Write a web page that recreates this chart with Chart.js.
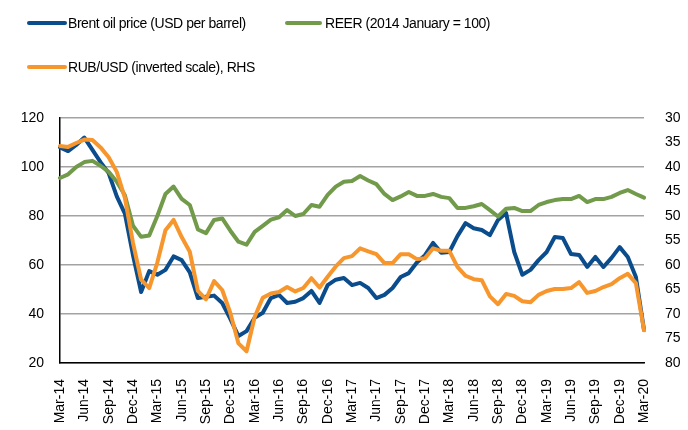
<!DOCTYPE html>
<html>
<head>
<meta charset="utf-8">
<script src="https://cdn.jsdelivr.net/npm/chart.js@4/dist/chart.umd.min.js"></script>
<style>
body{margin:0;background:#fff;}
#wrap{position:relative;width:688px;height:430px;font-family:"Liberation Sans",Arial,sans-serif;}
#chart{position:absolute;left:0;top:0;}
.leg{position:absolute;font-size:14px;letter-spacing:-0.45px;color:#000;white-space:nowrap;line-height:16px;}
.leg i{position:absolute;left:-41px;top:6px;width:40px;height:4px;border-radius:2px;}
</style>
</head>
<body>
<div id="wrap">
<canvas id="chart" width="688" height="430"></canvas>
<div class="leg" style="left:68px;top:15px;"><i style="background:#0a4c8c"></i>Brent oil price (USD per barrel)</div>
<div class="leg" style="left:325px;top:15px;"><i style="background:#719a4b;width:37px;left:-40px"></i>REER (2014 January = 100)</div>
<div class="leg" style="left:68px;top:59px;"><i style="background:#f7962c"></i>RUB/USD (inverted scale), RHS</div>
</div>
<script>
// ---------- DATA ----------
const monthNames = ["Jan","Feb","Mar","Apr","May","Jun","Jul","Aug","Sep","Oct","Nov","Dec"];
const months = [];
for(let y=14;y<=20;y++){
  for(let m=0;m<12;m++){
    if(y===14 && m<2) continue;
    if(y===20 && m>2) continue;
    months.push(monthNames[m]+"-"+y);
  }
}

const brent = [108,106.5,109,112,107,102,97.5,88,81,64,49,57.5,56,58,63.5,62,57,46.5,47,47.5,44.5,38,31,33,
38.5,40.5,46.5,47.8,44.5,45,46.5,49.4,44.5,51.8,54,54.7,51.8,52.7,50.6,46.5,47.8,50.6,55.1,56.7,61,64,69,65,
65.3,71.8,77.1,75,74.3,72.2,78.4,81.2,65.3,56,58,62,65.3,71.4,71,64.5,64.1,59.2,63.3,59.2,62.9,67.3,63.3,55.1,33.5];

const reer = [95.5,97,100,102,102.5,100.5,98,94,88.5,76,71.5,72,80,89,92,87,84.5,74.5,73,78.4,79,74,69.5,68.3,
73.5,76,78.5,79.5,82.4,80,80.8,84.5,83.8,88.6,92,94,94.3,96.3,94.5,93,89,86.5,88,89.8,88.2,88.2,89,87.8,
87.3,83.3,83.3,84,84.9,82.4,79.8,83,83.3,82,82,84.5,85.7,86.5,86.9,86.9,88.2,85.7,86.9,86.9,87.8,89.4,90.6,89,87.5];

const rubusd = [35.7,35.9,35.1,34.4,34.5,36,38,41,46.3,55.5,63,64.7,59.5,52.9,50.8,54.3,57.3,65.3,67,63.3,65.1,69.8,76,77.6,
70.6,66.7,65.8,65.5,64.5,65.4,64.7,62.7,64.6,62.4,60.3,58.6,58.2,56.6,57.2,57.8,59.6,59.6,57.8,57.8,58.8,58.6,56.6,57.1,
57.1,60.4,62.2,62.9,63.1,66.4,68,65.9,66.3,67.4,67.6,66.1,65.3,64.9,64.9,64.7,63.5,65.7,65.3,64.5,63.9,62.7,61.8,63.7,73.3];

const leftTicks = [20,120,20];   // min, max, step
const rightTicks = [30,80,5];

// ---------- CHART ----------
const font = {family:'"Liberation Sans", Arial, sans-serif', size:14};

const ctx = document.getElementById("chart").getContext("2d");

new Chart(ctx,{
type:"line",
data:{
labels:months,
datasets:[
{label:"Brent oil price (USD per barrel)",data:brent,borderColor:"#0a4c8c",yAxisID:"y",order:3},
{label:"REER (2014 January = 100)",data:reer,borderColor:"#719a4b",yAxisID:"y",order:2},
{label:"RUB/USD (inverted scale), RHS",data:rubusd,borderColor:"#f7962c",yAxisID:"y2",order:1}
]
},
options:{
responsive:false,
animation:false,
events:[],
elements:{
line:{borderWidth:4,tension:0,borderJoinStyle:"round",borderCapStyle:"round"},
point:{radius:0}
},
layout:{padding:{top:118,left:0,right:0,bottom:0}},
plugins:{legend:{display:false},tooltip:{enabled:false}},
scales:{
x:{
offset:false,
grid:{display:false,drawTicks:false},
border:{color:"#000",width:1.5},
ticks:{
autoSkip:false,maxRotation:90,minRotation:90,padding:16,color:"#000",font:font,
callback:(v,i)=> i%3===0 ? months[i] : ""
},
afterFit:s=>{s.height=67;}
},
y:{
position:"left",
min:leftTicks[0],max:leftTicks[1],
grid:{color:"#a3a3a3",lineWidth:1.5,drawTicks:false},
border:{color:"#000",width:1.5},
ticks:{stepSize:leftTicks[2],padding:16,color:"#000",font:font},
afterFit:s=>{s.width=60;}
},
y2:{
position:"right",
reverse:true,
min:rightTicks[0],max:rightTicks[1],
grid:{display:false,drawTicks:false},
border:{display:false},
ticks:{stepSize:rightTicks[2],padding:21,color:"#000",font:font},
afterFit:s=>{s.width=44;}
}
}
}
});
</script>
</body>
</html>
